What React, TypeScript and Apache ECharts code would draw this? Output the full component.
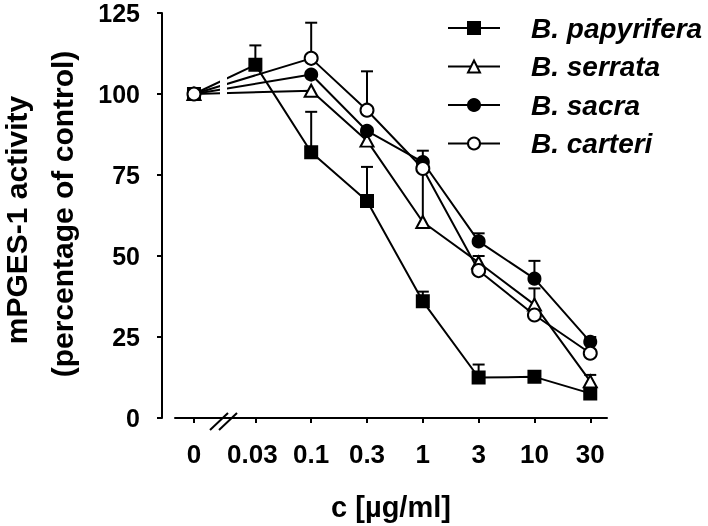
import React, { useEffect, useRef } from "react";
import * as echarts from "echarts";

// category labels and their positions along the (broken) x axis
const categories = ["0", "0.03", "0.1", "0.3", "1", "3", "10", "30"];
const categoryPos = [-0.1, 1, 2, 3, 4, 5, 6, 7];
const seriesNames = ["B. papyrifera", "B. serrata", "B. sacra", "B. carteri"];

const papyrifera = [100, 109, 82, 67, 36, 12.5, 12.7, 7.6];
const papyriferaErr = [0, 6, 12.5, 10.5, 3, 4, 0, 0];
const serrata = [100, null, 101, 85.6, 60.5, 48, 35, 11.3];
const serrataErr = [0, null, 0, 0, 17, 2, 5, 2];
const sacra = [100, null, 106, 88.6, 79, 54.5, 43, 23.5];
const sacraErr = [0, null, 0, 0, 3.5, 2.5, 5.5, 1.5];
const carteri = [100, null, 111, 95, 77, 45.5, 31.8, 20];
const carteriErr = [0, null, 11, 12, 0, 0, 0, 0];

const yMin = 0;
const yMax = 125;
const yStep = 25;

const FONT = "'Liberation Sans', Arial, Helvetica, sans-serif";

function toPoints(vals: (number | null)[]) {
  const out: number[][] = [];
  vals.forEach((v, i) => {
    if (v !== null) out.push([categoryPos[i], v]);
  });
  return out;
}

function toErr(vals: (number | null)[], errs: (number | null)[]) {
  const out: number[][] = [];
  vals.forEach((v, i) => {
    const e = errs[i];
    if (v !== null && e !== null && e > 0) out.push([categoryPos[i], v, e]);
  });
  return out;
}

export default function App() {
  const ref = useRef<HTMLDivElement>(null);
  useEffect(() => {
    if (!ref.current) return;
    const chart = echarts.init(ref.current, undefined, { renderer: "svg" });

    const allVals = [papyrifera, serrata, sacra, carteri];
    const allErrs = [papyriferaErr, serrataErr, sacraErr, carteriErr];
    const symbols = ["rect", "triangle", "circle", "circle"];
    const sizes: any[] = [12, [13, 12], 12, 13];
    const fills = ["#000", "#fff", "#000", "#fff"];

    const errData: number[][] = [];
    allVals.forEach((v, k) => errData.push(...toErr(v, allErrs[k])));

    const lineSeries = seriesNames.map((name, k) => ({
      name,
      type: "line",
      data: toPoints(allVals[k]),
      symbol: symbols[k],
      symbolSize: sizes[k],
      showAllSymbol: true,
      z: 3 + k,
      lineStyle: { color: "#000", width: 2 },
      itemStyle: { color: fills[k], borderColor: "#000", borderWidth: 2, opacity: 1 },
      emphasis: { disabled: true },
    }));

    const labelStyle = {
      color: "#000",
      fontFamily: FONT,
      fontSize: 26,
      fontWeight: "bold",
    };

    const option: any = {
      animation: false,
      grid: { left: 175, right: 101, top: 13, bottom: 105, containLabel: false },
      legend: {
        data: seriesNames,
        orient: "vertical",
        left: 442,
        top: 9,
        itemWidth: 52,
        itemHeight: 15,
        itemGap: 10.5,
        selectedMode: false,
        textStyle: {
          color: "#000",
          fontFamily: FONT,
          fontSize: 28,
          fontWeight: "bold",
          fontStyle: "italic",
          lineHeight: 28,
          padding: [0, 0, 0, 26],
        },
      },
      xAxis: {
        type: "value",
        min: -0.44,
        max: 7.3,
        splitLine: { show: false },
        axisLine: { onZero: false, lineStyle: { color: "#000", width: 2 } },
        axisTick: {
          show: true,
          length: 5,
          customValues: categoryPos,
          lineStyle: { color: "#000", width: 2 },
        },
        axisLabel: {
          customValues: categoryPos,
          margin: 23,
          ...labelStyle,
          formatter: (v: number) => {
            const i = categoryPos.indexOf(v);
            if (i < 0) return "";
            return i === 1 ? `{s|${categories[i]}}` : categories[i];
          },
          rich: {
            s: { ...labelStyle, padding: [0, 6, 0, 0] },
          },
        },
        name: "c [µg/ml]",
        nameLocation: "middle",
        nameGap: 74,
        nameTextStyle: {
          color: "#000",
          fontFamily: FONT,
          fontSize: 29,
          fontWeight: "bold",
        },
      },
      yAxis: {
        type: "value",
        min: yMin,
        max: yMax,
        interval: yStep,
        offset: 13,
        splitLine: { show: false },
        axisLine: { show: true, onZero: false, lineStyle: { color: "#000", width: 2 } },
        axisTick: { show: true, length: 5, lineStyle: { color: "#000", width: 2 } },
        axisLabel: {
          margin: 22,
          ...labelStyle,
          fontSize: 25,
        },
      },
      graphic: [
        {
          type: "text",
          x: 16,
          y: 220,
          rotation: Math.PI / 2,
          style: {
            text: "mPGES-1 activity",
            fill: "#000",
            font: `bold 30px ${FONT}`,
            align: "center",
            verticalAlign: "middle",
          },
        },
        {
          type: "text",
          x: 62,
          y: 214,
          rotation: Math.PI / 2,
          style: {
            text: "(percentage of control)",
            fill: "#000",
            font: `bold 30px ${FONT}`,
            align: "center",
            verticalAlign: "middle",
          },
        },
        // white gap in the data lines at the axis break
        {
          type: "rect",
          z: 100,
          shape: { x: 220, y: 60, width: 7, height: 40 },
          style: { fill: "#fff" },
        },
        // axis break marks
        {
          type: "line",
          z: 100,
          shape: { x1: 210, y1: 430, x2: 228, y2: 413 },
          style: { stroke: "#000", lineWidth: 2 },
        },
        {
          type: "line",
          z: 100,
          shape: { x1: 219, y1: 430, x2: 237, y2: 413 },
          style: { stroke: "#000", lineWidth: 2 },
        },
      ],
      series: [
        {
          type: "custom",
          z: 1,
          silent: true,
          data: errData,
          encode: { x: 0, y: 1 },
          renderItem: (params: any, api: any) => {
            const x = api.value(0);
            const v = api.value(1);
            const e = api.value(2);
            const p0 = api.coord([x, v]);
            const p1 = api.coord([x, v + e]);
            return {
              type: "group",
              children: [
                {
                  type: "line",
                  shape: { x1: p0[0], y1: p0[1], x2: p1[0], y2: p1[1] },
                  style: { stroke: "#000", lineWidth: 2 },
                },
                {
                  type: "line",
                  shape: { x1: p1[0] - 6, y1: p1[1], x2: p1[0] + 6, y2: p1[1] },
                  style: { stroke: "#000", lineWidth: 2 },
                },
              ],
            };
          },
        },
        ...lineSeries,
      ],
    };
    chart.setOption(option);
    return () => chart.dispose();
  }, []);
  return (
    <div
      ref={ref}
      style={{ position: "fixed", left: 0, top: 0, width: 708, height: 526 }}
    />
  );
}
